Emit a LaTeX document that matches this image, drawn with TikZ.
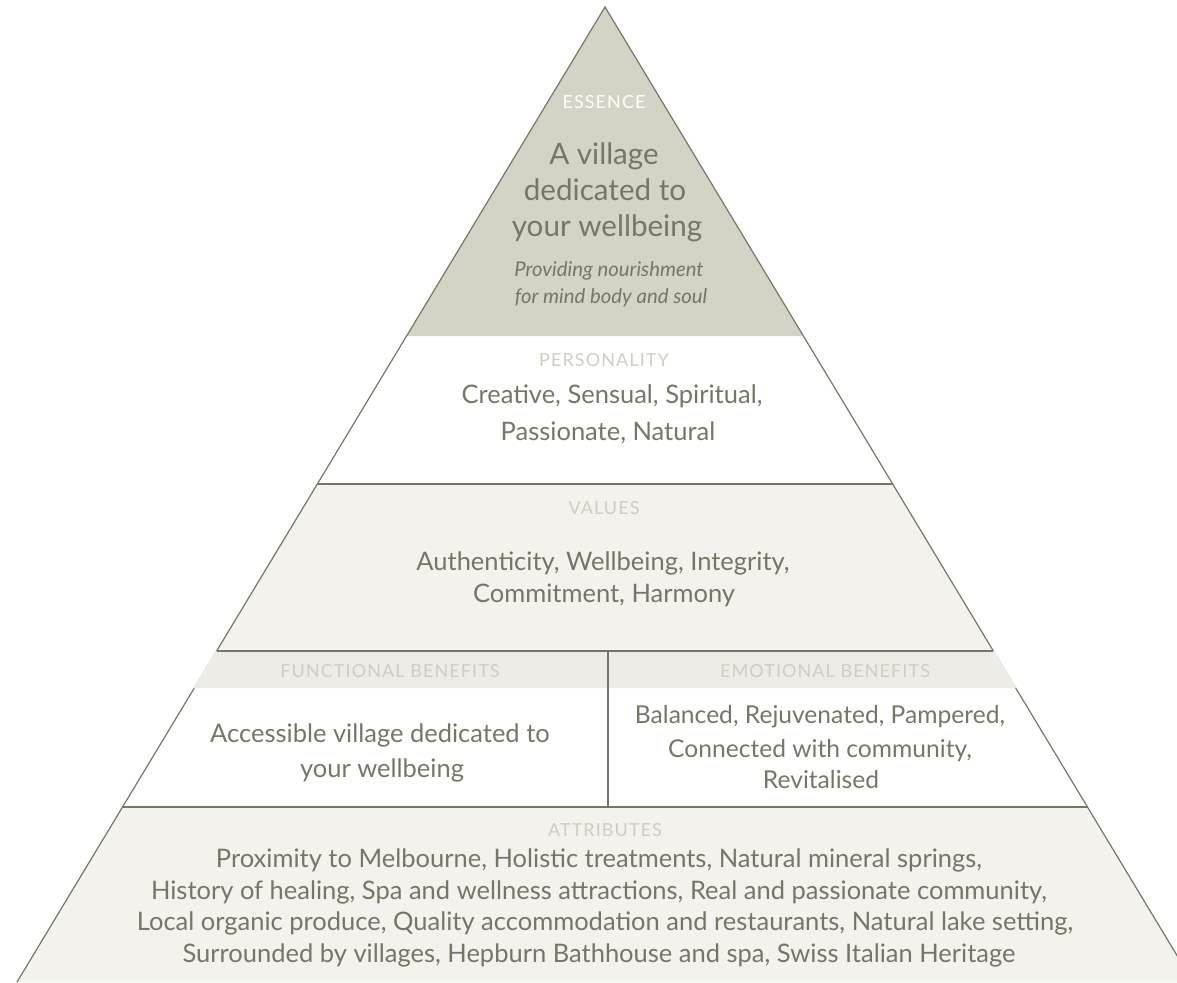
\documentclass[tikz,border=0pt]{standalone}
\usepackage{fontspec}
\setmainfont{Lato}
\newfontfamily\capsfont[LetterSpace=6]{Lato}
\definecolor{ink}{RGB}{118,118,102}
\definecolor{headink}{RGB}{206,206,192}
\definecolor{essfill}{RGB}{212,211,198}
\definecolor{valfill}{RGB}{243,242,237}
\definecolor{hdrfill}{RGB}{237,236,231}
\begin{document}
\begin{tikzpicture}[x=1pt,y=-1pt,
  outline/.style={draw=ink,line width=1.2pt},
  band/.style={draw=ink,line width=2.5pt},
  head/.style={anchor=base,inner sep=0pt,text=headink,font=\capsfont\fontsize{18}{20}\selectfont},
  body/.style={anchor=base,inner sep=0pt,text=ink,font=\fontsize{25.5}{30}\selectfont},
  emobody/.style={body,font=\fontsize{24.6}{30}\selectfont},
  big/.style={anchor=base,inner sep=0pt,text=ink,font=\fontsize{29.6}{34}\selectfont},
  ital/.style={anchor=base,inner sep=0pt,text=ink,font=\itshape\fontsize{20.3}{24}\selectfont}]
\useasboundingbox (0,0) rectangle (1177,982);
\clip (0,0) rectangle (1177,982);
% geometry
\coordinate (apex) at (605,7);
\coordinate (bl) at (17,982);
\coordinate (br) at (1193,982);
% fills
\fill[essfill] (apex) -- (406.6,336) -- (803.4,336) -- cycle;
\fill[valfill] (317.3,484) -- (892.7,484) -- (993.4,651) -- (216.6,651) -- cycle;
\fill[valfill] (122.5,807) -- (1087.5,807) -- (br) -- (bl) -- cycle;
% outline
\draw[outline] (bl) -- (apex) -- (br);
% header strips
\fill[hdrfill] (215.6,651) -- (608,651) -- (608,688) -- (193.3,688) -- cycle;
\fill[hdrfill] (608,651) -- (994.4,651) -- (1016.7,688) -- (608,688) -- cycle;
% band lines
\coordinate (l1a) at (317.3,484); \coordinate (l1b) at (892.7,484);
\coordinate (l2a) at (216.6,651); \coordinate (l2b) at (993.4,651);
\coordinate (l3a) at (122.5,807); \coordinate (l3b) at (1087.5,807);
\coordinate (dvt) at (608,651); \coordinate (dvb) at (608,807);
\draw[band] (l1a) -- (l1b);
\draw[band] (l2a) -- (l2b);
\draw[band] (l3a) -- (l3b);
\draw[band] (dvt) -- (dvb);
% essence
\node[head,text=white] (essh) at (604,108) {ESSENCE};
\node[big] (ess1) at (604,164) {A village};
\node[big] (ess2) at (605,200) {dedicated to};
\node[big] (ess3) at (607,236) {your wellbeing};
\node[ital] (ess4) at (609,276) {Providing nourishment};
\node[ital] (ess5) at (611,303) {for mind body and soul};
% personality
\node[head] (perh) at (604,366) {PERSONALITY};
\node[body] (per1) at (612,403) {Creative, Sensual, Spiritual,};
\node[body] (per2) at (608,440) {Passionate, Natural};
% values
\node[head] (valh) at (604,514) {VALUES};
\node[body] (val1) at (603,570) {Authenticity, Wellbeing, Integrity,};
\node[body] (val2) at (604,602) {Commitment, Harmony};
% functional
\node[head] (funh) at (390,677) {FUNCTIONAL BENEFITS};
\node[body] (fun1) at (380,742) {Accessible village dedicated to};
\node[body] (fun2) at (382,777) {your wellbeing};
% emotional
\node[head] (emoh) at (825,677) {EMOTIONAL BENEFITS};
\node[emobody] (emo1) at (820,723) {Balanced, Rejuvenated, Pampered,};
\node[emobody] (emo2) at (820,757) {Connected with community,};
\node[emobody] (emo3) at (821,788) {Revitalised};
% attributes
\node[head] (atth) at (605,836) {ATTRIBUTES};
\node[body] (att1) at (599,867) {Proximity to Melbourne, Holistic treatments, Natural mineral springs,};
\node[body] (att2) at (599,899) {History of healing, Spa and wellness attractions, Real and passionate community,};
\node[body] (att3) at (605,930) {Local organic produce, Quality accommodation and restaurants, Natural lake setting,};
\node[body] (att4) at (599,962) {Surrounded by villages, Hepburn Bathhouse and spa, Swiss Italian Heritage};
\end{tikzpicture}
\end{document}
